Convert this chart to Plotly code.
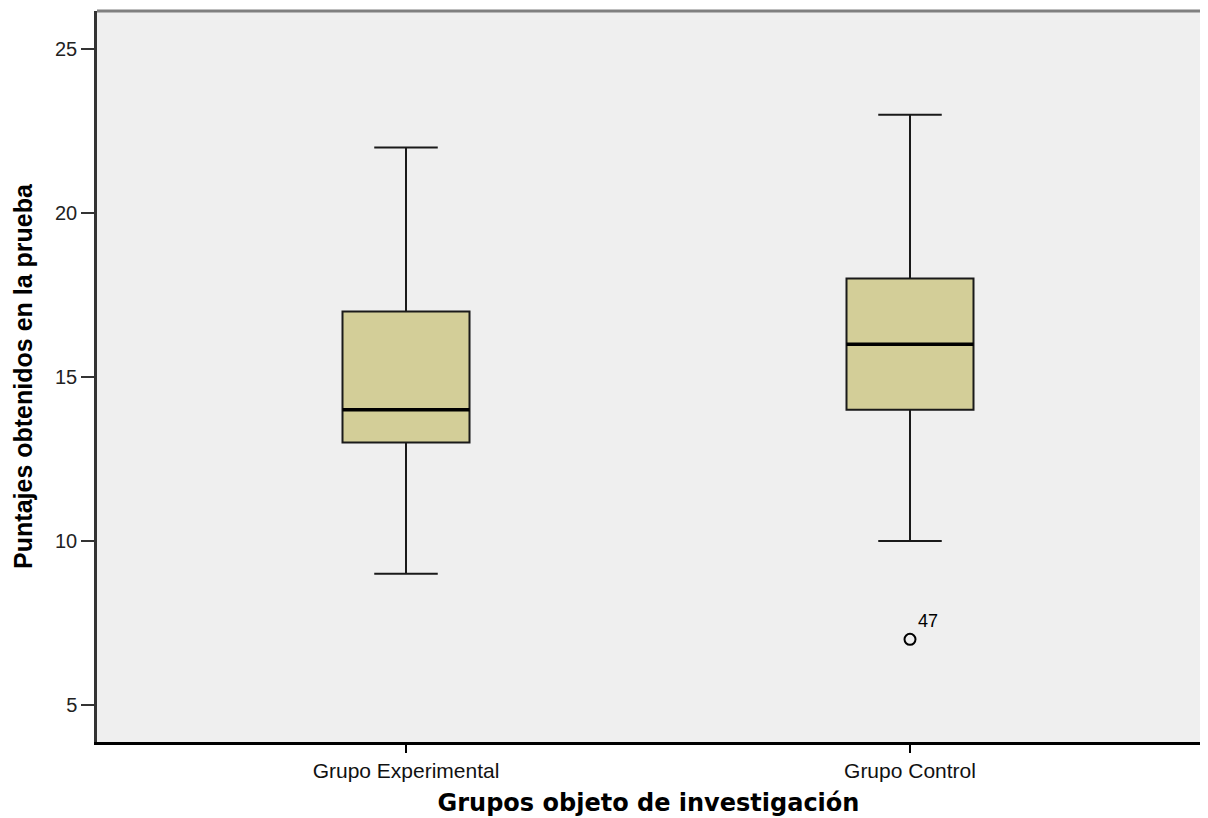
import plotly.graph_objects as go

# ---- data ----
categories = ["Grupo Experimental", "Grupo Control"]
lower_whisker = [9, 10]
q1 = [13, 14]
median = [14, 16]
q3 = [17, 18]
upper_whisker = [22, 23]
outlier_group = ["Grupo Control"]
outlier_values = [7]
outlier_labels = ["47"]

y_ticks = [5, 10, 15, 20, 25]

# ---- style ----
box_width = 0.252
fill_color = "#D3CE98"
xpos = list(range(len(categories)))
cat_index = {c: i for i, c in enumerate(categories)}

fig = go.Figure()

fig.add_trace(go.Box(
    x=xpos,
    q1=q1, median=median, q3=q3,
    lowerfence=lower_whisker, upperfence=upper_whisker,
    width=box_width,
    whiskerwidth=0.5,
    fillcolor=fill_color,
    line=dict(color="#1a1a1a", width=2),
    boxpoints=False,
    showlegend=False,
    hoverinfo="skip",
))

# thick median lines
mx, my = [], []
for i, m in zip(xpos, median):
    mx += [i - box_width / 2, i + box_width / 2, None]
    my += [m, m, None]
fig.add_trace(go.Scatter(
    x=mx, y=my, mode="lines",
    line=dict(color="black", width=3.5),
    showlegend=False, hoverinfo="skip",
))

# outliers
fig.add_trace(go.Scatter(
    x=[cat_index[g] for g in outlier_group], y=outlier_values,
    mode="markers+text",
    marker=dict(symbol="circle-open", size=11, color="black", line=dict(width=2)),
    text=outlier_labels, textposition="top right",
    textfont=dict(family="Liberation Sans, Arial, sans-serif", size=18, color="black"),
    showlegend=False, hoverinfo="skip",
))

fig.update_layout(
    width=1192, height=810,
    margin=dict(l=89, r=0, t=3, b=76),
    paper_bgcolor="white",
    plot_bgcolor="#EFEFEF",
    font=dict(family="Liberation Sans, Arial, sans-serif", color="black"),
    xaxis=dict(
        range=[-0.6131, 1.5754],
        tickmode="array", tickvals=xpos, ticktext=categories,
        tickfont=dict(size=21, color="#111"),
        ticks="outside", ticklen=8, tickwidth=1.5, tickcolor="black",
        showline=True, linecolor="black", linewidth=2.5,
        showgrid=False, zeroline=False,
        title=dict(text="<b>Grupos objeto de investigación</b>",
                   font=dict(family="DejaVu Sans, Verdana, sans-serif", size=24, color="black"),
                   standoff=14),
    ),
    yaxis=dict(
        range=[3.87, 26.16],
        tickmode="array", tickvals=y_ticks,
        tickfont=dict(size=20, color="#222"),
        ticks="outside", ticklen=13, tickwidth=1.5, tickcolor="#333",
        showline=True, linecolor="#333", linewidth=2.5,
        showgrid=False, zeroline=False,
        title=dict(text="<b>Puntajes obtenidos en la prueba</b>",
                   font=dict(family="Liberation Sans, Arial, sans-serif", size=25, color="black"),
                   standoff=16),
    ),
    shapes=[dict(type="line", xref="paper", yref="paper", x0=0, x1=1, y0=1, y1=1,
                 line=dict(color="#808080", width=3))],
)

fig.write_html("out.html")
